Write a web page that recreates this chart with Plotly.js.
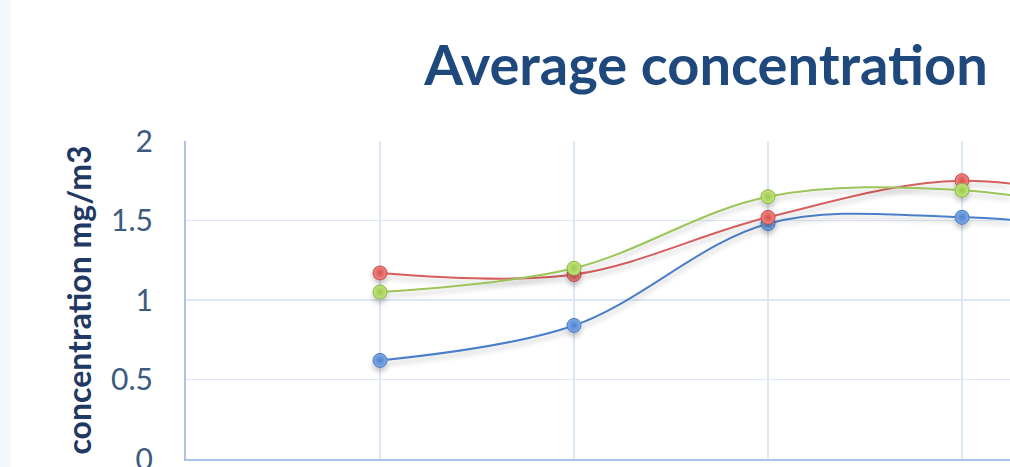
<!DOCTYPE html>
<html>
<head>
<meta charset="utf-8">
<script src="https://cdn.plot.ly/plotly-3.0.1.min.js"></script>
<style>
  html, body { margin: 0; padding: 0; }
  body { width: 1010px; height: 467px; overflow: hidden;
         background: linear-gradient(to right, #f2f7fc 0, #f2f7fc 11px, #ffffff 11px); }
  #chart { width: 1010px; height: 520px; }
  svg text { font-variant-ligatures: none; }
</style>
</head>
<body>
<div id="chart"></div>
<script>
// Sampling points along the x axis
const samplePoints = [1, 2, 3, 4, 5];

// Average concentration per series, mg/m3
const seriesBlue  = [0.62, 0.84, 1.48, 1.52, 1.42];
const seriesRed   = [1.17, 1.16, 1.52, 1.75, 1.56];
const seriesGreen = [1.05, 1.20, 1.65, 1.69, 1.50];

const yTicks = [0, 0.5, 1, 1.5, 2];
const yTickLabels = ['0', '0.5', '1', '1.5', '2'];

function series(values, name, lineColor, fillColor, edgeColor, rimColor) {
  return {
    type: 'scatter',
    mode: 'lines+markers',
    name: name,
    x: samplePoints,
    y: values,
    cliponaxis: false,
    line: { color: lineColor, width: 2, shape: 'spline', smoothing: 1 },
    marker: {
      size: 14,
      color: fillColor,
      gradient: { type: 'radial', color: rimColor },
      line: { color: edgeColor, width: 1 }
    }
  };
}

const traces = [
  series(seriesBlue,  'Series 1', '#4a7ec8', '#80ace8', '#4a78bd', '#4f83d0'),
  series(seriesRed,   'Series 2', '#d45f5b', '#f08886', '#c24a47', '#d9504d'),
  series(seriesGreen, 'Series 3', '#9cc45a', '#c4e47e', '#88b244', '#9cc94f')
];

// the chart runs past the bottom of the window; plot bottom sits at y = 459
const H = 520;
const layout = {
  width: 1010,
  height: H,
  margin: { l: 186, r: 0, t: 141, b: H - 459, pad: 0 },
  paper_bgcolor: 'rgba(0,0,0,0)',
  plot_bgcolor: 'rgba(0,0,0,0)',
  showlegend: false,
  font: { family: 'Lato, "Open Sans", sans-serif', color: '#3d5a80' },
  title: {
    text: 'Average concentration',
    font: { family: 'Lato, "Open Sans", sans-serif', size: 56, weight: 700, color: '#1f487c' },
    xref: 'container', x: 706 / 1010, xanchor: 'center',
    yref: 'container', y: 1 - 65 / H, yanchor: 'middle'
  },
  xaxis: {
    range: [0, (1010 - 186) / 194],
    tickvals: [1, 2, 3, 4],
    showticklabels: false,
    showgrid: true,
    gridcolor: '#dde8f6',
    gridwidth: 1.5,
    zeroline: false,
    showline: true,
    linecolor: '#a9c4e8',
    linewidth: 2,
    fixedrange: true
  },
  yaxis: {
    range: [0, 2],
    tickvals: yTicks,
    ticktext: yTickLabels,
    ticks: 'outside',
    ticklen: 25,
    tickcolor: 'rgba(0,0,0,0)',
    tickfont: { size: 30, color: '#3d5a80' },
    showgrid: true,
    gridcolor: '#dde8f6',
    gridwidth: 1.5,
    zeroline: false,
    showline: true,
    linecolor: '#a9c4e8',
    linewidth: 2,
    fixedrange: true,
    title: {
      text: 'concentration mg/m3',
      standoff: 10,
      font: { family: 'Lato, "Open Sans", sans-serif', size: 32, weight: 700, color: '#1f3864' }
    }
  }
};

Plotly.newPlot('chart', traces, layout, { displayModeBar: false, staticPlot: true }).then(function (gd) {
  // soft drop shadow under the series lines and markers
  const svg = gd.querySelector('svg.main-svg');
  const ns = 'http://www.w3.org/2000/svg';
  let defs = svg.querySelector('defs');
  if (!defs) { defs = document.createElementNS(ns, 'defs'); svg.insertBefore(defs, svg.firstChild); }
  const filter = document.createElementNS(ns, 'filter');
  filter.setAttribute('id', 'seriesShadow');
  filter.setAttribute('x', '-10%'); filter.setAttribute('y', '-20%');
  filter.setAttribute('width', '120%'); filter.setAttribute('height', '160%');
  const shadow = document.createElementNS(ns, 'feDropShadow');
  shadow.setAttribute('dx', '0'); shadow.setAttribute('dy', '4');
  shadow.setAttribute('stdDeviation', '2.5');
  shadow.setAttribute('flood-color', '#000000');
  shadow.setAttribute('flood-opacity', '0.22');
  filter.appendChild(shadow);
  defs.appendChild(filter);
  gd.querySelectorAll('.scatterlayer .trace').forEach(function (g) {
    g.setAttribute('filter', 'url(#seriesShadow)');
  });
});
</script>
</body>
</html>
